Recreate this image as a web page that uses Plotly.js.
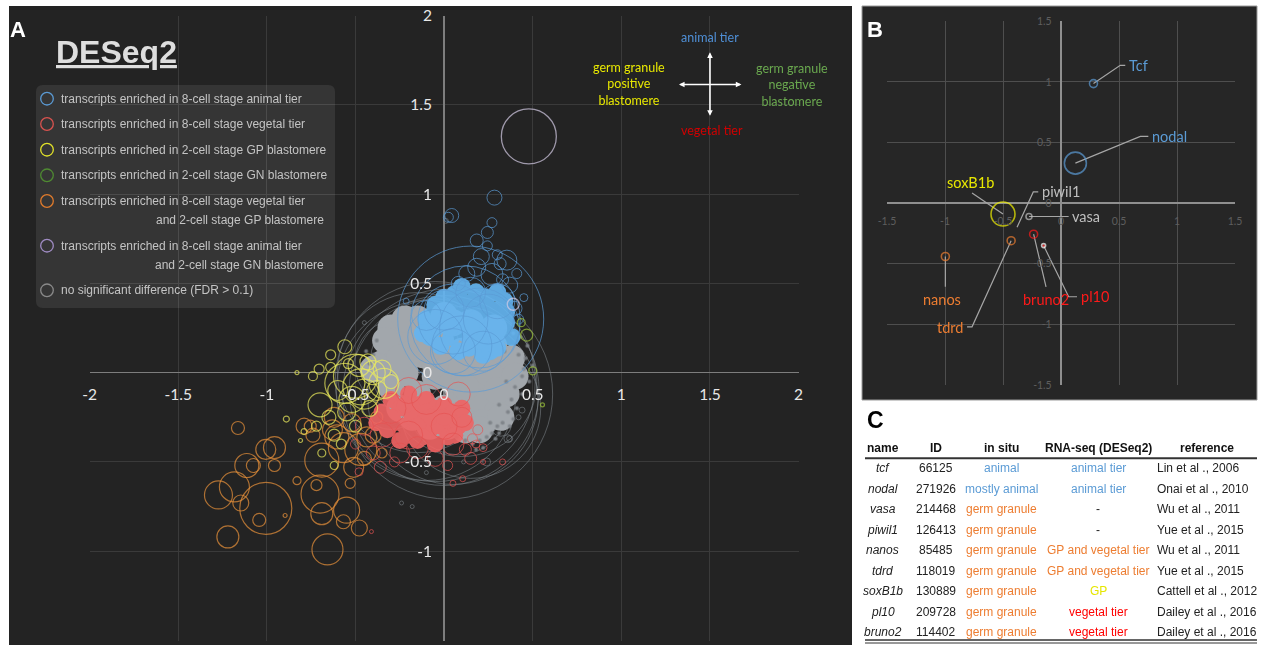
<!DOCTYPE html>
<html><head><meta charset="utf-8">
<script src="https://cdn.plot.ly/plotly-3.0.1.min.js"></script>
<style>html,body{margin:0;padding:0;background:#fff}#chart{width:1264px;height:645px}</style>
</head><body><div id="chart"></div>
<script>
// ---------- Panel A data (log2 fold changes; bubble diameter) ----------
const aTicks = [-2,-1.5,-1,-0.5,0,0.5,1,1.5,2];
const aTickText = ['-2','-1.5','-1','-0.5','0','0.5','1','1.5','2'];
const aYTicks = [-1.5,-1,-0.5,0,0.5,1,1.5,2];
const aYTickText = ['-1.5','-1','-0.5','0','0.5','1','1.5','2'];

// not significant: dense core
const greyCoreX = [-0.35,-0.30,-0.28,-0.22,-0.20,-0.15,-0.12,-0.10,-0.05,-0.02,0.00,0.03,0.05,0.08,0.10,0.12,0.15,0.18,0.20,0.22,0.25,0.28,0.30,0.33,0.35,0.38,-0.25,-0.18,-0.08,0.02,0.12,0.22,0.32,-0.30,-0.15,0.00,0.15,0.28,0.05,0.18,-0.05,0.25,0.40,0.10,-0.20,-0.40,-0.33,-0.25,-0.10,0.06,0.20,-0.08,0.12,0.30,-0.22];
const greyCoreY = [0.05,-0.08,0.15,0.00,0.20,-0.12,0.10,0.25,-0.02,0.18,-0.20,0.05,0.28,-0.10,0.12,-0.25,0.00,0.20,-0.15,0.08,-0.05,0.15,-0.22,0.02,-0.12,0.08,-0.20,-0.25,-0.30,-0.30,-0.32,-0.28,-0.25,0.25,0.30,0.32,0.28,0.25,-0.05,-0.02,0.05,0.00,-0.02,0.02,0.10,0.02,0.18,0.08,-0.20,-0.18,-0.32,0.14,-0.08,-0.10,0.30];
// not significant: speckled edge
const greyDotX = [0.42,0.45,0.40,0.38,0.44,0.36,0.33,0.30,0.27,0.24,0.20,0.16,0.47,0.43,0.39,0.35,0.31,0.48,0.41,0.37,0.29,0.22,-0.40,-0.42,-0.38,-0.44,0.46,0.34,0.26,0.12,0.07,0.44,0.50,0.39,0.31,0.18];
const greyDotY = [0.10,0.02,-0.08,-0.15,-0.12,-0.22,-0.28,-0.30,-0.34,-0.36,-0.38,-0.40,0.15,0.20,0.22,-0.05,-0.18,-0.05,-0.20,-0.30,-0.37,-0.42,0.10,0.05,0.18,0.12,0.08,0.12,-0.28,-0.38,-0.36,-0.02,0.04,-0.26,-0.34,-0.43];
// not significant: open circles
const greyX = [0.02,0.00,0.05,-0.05,0.10,-0.10,0.15,0.00,-0.15,0.08,-0.05,0.20,0.44,0.42,0.36,0.24,0.11,-0.10,-0.24,-0.18,-0.45,0.37,0.01,0.30,-0.30,0.25,0.15,-0.20,0.32,-0.25,-0.12];
const greyY = [-0.12,-0.10,-0.15,-0.05,-0.05,-0.10,-0.20,0.00,0.00,-0.18,0.05,-0.25,-0.21,-0.25,-0.37,-0.50,-0.50,-0.56,-0.73,-0.75,0.28,-0.37,0.85,-0.10,-0.15,0.05,0.12,0.18,-0.30,0.05,0.12];
const greyS = [210,190,170,200,150,180,140,120,160,100,130,40,6,5,8,8,4,4,4,4,4,6,5,30,60,50,45,35,20,90,75];

// animal tier
const blueCoreX = [-0.10,-0.05,0.00,0.05,0.10,0.15,0.20,0.25,0.30,0.35,-0.08,-0.02,0.04,0.08,0.12,0.18,0.22,0.28,0.32,0.00,0.06,0.12,0.18,0.24,0.30,0.10,0.16,0.22,-0.05,0.14,0.26,0.20,0.08,0.34,-0.12,0.38,0.02,0.07,0.13,0.18,0.24,0.28,0.20,0.15,0.35,0.03,-0.06,0.10,0.30];
const blueCoreY = [0.30,0.25,0.35,0.28,0.40,0.32,0.38,0.30,0.35,0.28,0.20,0.15,0.20,0.12,0.22,0.18,0.25,0.20,0.22,0.42,0.44,0.30,0.45,0.42,0.45,0.36,0.26,0.10,0.38,0.14,0.12,0.32,0.30,0.40,0.22,0.20,0.30,0.36,0.38,0.30,0.36,0.28,0.18,0.25,0.34,0.25,0.33,0.48,0.14];
const blueX = [0.15,0.12,0.20,0.05,0.10,0.25,-0.05,0.00,0.30,0.15,-0.10,0.22,0.05,0.284,0.043,0.024,0.27,0.244,0.184,0.244,0.21,0.354,0.30,0.184,0.128,0.316,0.41,0.37,-0.214,0.45,0.27,0.08,0.33,0.42,0.40];
const blueY = [0.30,0.29,0.25,0.30,0.15,0.30,0.20,0.35,0.40,0.45,0.32,0.12,0.12,0.98,0.88,0.87,0.84,0.785,0.74,0.71,0.65,0.63,0.66,0.59,0.555,0.61,0.555,0.49,0.40,0.42,0.55,0.50,0.52,0.30,0.36];
const blueS = [146,110,80,70,60,50,55,40,35,30,30,40,45,15,14,10,10,12,13,10,16,20,10,18,16,12,10,16,6,8,22,14,12,10,14];

// vegetal tier
const redCoreX = [-0.30,-0.25,-0.20,-0.15,-0.10,-0.05,0.00,0.05,0.10,-0.28,-0.22,-0.18,-0.12,-0.08,-0.02,0.04,0.08,-0.35,-0.15,-0.05,-0.25,0.02,-0.10,-0.20,-0.32,0.12,-0.30,-0.22,-0.08,0.00,0.06,-0.15,-0.38,-0.12];
const redCoreY = [-0.15,-0.20,-0.12,-0.18,-0.15,-0.20,-0.18,-0.22,-0.20,-0.28,-0.30,-0.25,-0.28,-0.32,-0.30,-0.28,-0.30,-0.22,-0.38,-0.40,-0.38,-0.36,-0.22,-0.35,-0.32,-0.28,-0.25,-0.18,-0.25,-0.25,-0.35,-0.30,-0.28,-0.36];
const redX = [-0.36,-0.48,0.05,0.105,0.33,0.19,0.16,0.12,-0.41,0.22,0.18,-0.30,-0.20,0.00,-0.10,0.05,-0.35,-0.25,-0.45,0.10,-0.15,-0.05,-0.40,0.15,-0.28,0.02,0.22,-0.50,0.08,-0.20];
const redY = [-0.53,-0.555,-0.62,-0.594,-0.50,-0.32,-0.37,-0.43,-0.89,-0.50,-0.40,-0.20,-0.35,-0.30,-0.15,-0.40,-0.35,-0.45,-0.30,-0.25,-0.42,-0.48,-0.45,-0.48,-0.50,-0.52,-0.42,-0.40,-0.12,-0.10];
const redS = [12,8,6,6,6,10,10,12,4,5,8,30,28,26,30,22,24,20,18,20,22,16,14,12,10,10,8,10,24,26];

// 2-cell GP blastomere
const yelX = [-0.56,-0.64,-0.705,-0.74,-0.64,-0.54,-0.43,-0.56,-0.47,-0.34,-0.70,-0.89,-0.79,-0.81,-0.62,-0.69,-0.83,-0.50,-0.45,-0.40,-0.52,-0.60,-0.38,-0.48,-0.55,-0.42,-0.65,-0.62,-0.72,-0.35,-0.30,-0.50,-0.58];
const yelY = [0.145,0.10,0.02,-0.02,0.03,0.05,0.06,-0.06,-0.08,-0.06,-0.18,-0.26,-0.33,-0.38,-0.52,-0.45,0.00,-0.02,-0.12,0.00,-0.15,-0.10,-0.10,0.04,-0.22,-0.20,-0.25,-0.35,-0.30,0.02,-0.05,-0.30,-0.40];
const yelS = [14,10,10,9,10,10,16,40,36,30,24,6,6,4,8,8,4,44,30,24,26,20,20,22,18,16,14,12,10,18,14,12,10];

// 2-cell GN blastomere
const grnX = [0.435,0.466,0.50,0.555];
const grnY = [0.28,0.21,0.01,-0.18];
const grnS = [8,12,8,4];

// 8-cell vegetal + 2-cell GP
const orgX = [-1.163,-1.006,-0.957,-0.957,-1.113,-1.076,-1.183,-1.273,-1.147,-1.006,-1.043,-0.897,-1.22,-0.83,-0.70,-0.72,-0.69,-0.55,-0.568,-0.478,-0.658,-0.53,-0.79,-0.69,-0.568,-0.605,-0.47,-0.51,-0.63,-0.74,-0.436,-0.62,-0.755,-0.40,-0.45,-0.38,-0.52,-0.35];
const orgY = [-0.31,-0.43,-0.42,-0.52,-0.52,-0.52,-0.64,-0.685,-0.73,-0.76,-0.825,-0.80,-0.92,-0.605,-0.68,-0.63,-0.79,-0.77,-0.835,-0.87,-0.99,-0.62,-0.30,-0.49,-0.42,-0.36,-0.43,-0.53,-0.32,-0.35,-0.36,-0.25,-0.30,-0.35,-0.48,-0.25,-0.28,-0.45];
const orgS = [13,20,22,12,24,14,30,28,16,52,13,4,22,8,38,11,22,26,14,16,31,10,16,34,30,24,32,20,20,14,20,20,12,16,14,12,18,10];

// 8-cell animal + 2-cell GN
const purX = [0.478,0.39];
const purY = [1.323,0.383];
const purS = [55,12];

// legend
const legendLines1 = ['transcripts enriched in 8-cell stage animal tier','transcripts enriched in 8-cell stage vegetal tier','transcripts enriched in 2-cell stage GP blastomere','transcripts enriched in 2-cell stage GN blastomere','transcripts enriched in 8-cell stage vegetal tier','transcripts enriched in 8-cell stage animal tier','no significant difference (FDR &gt; 0.1)'];
const legendLines2 = ['','','','','and 2-cell stage GP blastomere','and 2-cell stage GN blastomere',''];
const legendColors = ['#5b9bd5','#d9534f','#e3e32a','#4f8a32','#e07b2c','#a08cc4','#8a8a8a'];

// ---------- Panel B data ----------
const bTicks = [-1.5,-1,-0.5,0,0.5,1,1.5];
const bTickText = ['-1.5','-1','-0.5','0','0.5','1','1.5'];
const bGenes = ['Tcf','nodal','soxB1b','piwil1','vasa','nanos','tdrd','bruno2','pl10'];
const bX = [0.28,0.124,-0.50,-0.379,-0.276,-0.997,-0.43,-0.236,-0.15];
const bY = [0.986,0.33,-0.09,-0.198,-0.11,-0.44,-0.31,-0.256,-0.35];
const bSize = [8,22,24,0,6,8,8,8,4];
const bColor = ['#5b9bd5','#5b9bd5','#f2f200','#bfbfbf','#bfbfbf','#ed7d31','#ed7d31','#ff1a1a','#ff1a1a'];
// label leader geometry (label side)
const bElbowX = [0.511,0.684,-0.767,-0.239,0.066,-0.997,-0.767,-0.129,0.066];
const bElbowY = [1.137,0.55,0.083,0.093,-0.11,-0.69,-1.02,-0.69,-0.772];
const bEndX = [0.554,0.753,-0.767,-0.196,0.066,-0.997,-0.81,-0.129,0.138];
const bEndY = [1.137,0.55,0.083,0.093,-0.11,-0.69,-1.02,-0.69,-0.772];
const bLabX = [0.57,0.77,-0.782,-0.18,0.08,-1.026,-0.828,-0.129,0.155];
const bLabY = [1.137,0.55,0.17,0.093,-0.11,-0.793,-1.025,-0.793,-0.772];
const bLabAnchor = ['left','left','center','left','left','center','right','center','left'];

// ---------- Panel C data ----------
const tHead = ['name','ID','in situ','RNA-seq (DESeq2)','reference'];
const tName = ['tcf','nodal','vasa','piwil1','nanos','tdrd','soxB1b','pl10','bruno2'];
const tID = ['66125','271926','214468','126413','85485','118019','130889','209728','114402'];
const tInSitu = ['animal','mostly animal','germ granule','germ granule','germ granule','germ granule','germ granule','germ granule','germ granule'];
const tRNA = ['animal tier','animal tier','-','-','GP and vegetal tier','GP and vegetal tier','GP','vegetal tier','vegetal tier'];
const tRef = ['Lin et al ., 2006','Onai et al ., 2010','Wu et al ., 2011','Yue et al ., 2015','Wu et al ., 2011','Yue et al ., 2015','Cattell et al ., 2012','Dailey et al ., 2016','Dailey et al ., 2016'];

// ---------- helpers ----------
const W = 1264, H = 645;
const X = p => p / W, Y = p => 1 - p / H;
const catColor = {'animal':'#5b9bd5','mostly animal':'#5b9bd5','germ granule':'#ed7d31','animal tier':'#5b9bd5','-':'#222','GP and vegetal tier':'#ed7d31','GP':'#e6e600','vegetal tier':'#ff0000'};

function openTrace(x, y, s, color, w) {
  return {type:'scatter', mode:'markers', x:x, y:y, xaxis:'x', yaxis:'y', hoverinfo:'skip',
    marker:{symbol:'circle-open', size:s, color:color, line:{width:w||1}}};
}
function fillTrace(x, y, size, color, op) {
  return {type:'scatter', mode:'markers', x:x, y:y, xaxis:'x', yaxis:'y', hoverinfo:'skip', opacity:op,
    marker:{symbol:'circle', size:size, color:color, line:{width:0}}};
}

const traces = [
  openTrace(greyX, greyY, greyS, '#80868c', 0.8),
  fillTrace(greyCoreX, greyCoreY, 27, '#a2a7ac', 1),
  fillTrace(greyDotX, greyDotY, 4, '#7c8186', 0.9),
  openTrace(orgX, orgY, orgS, '#e8913a', 1.2),
  fillTrace(redCoreX, redCoreY, 17, '#ee6464', 0.92),
  openTrace(redX, redY, redS, '#e65252', 1),
  fillTrace(blueCoreX, blueCoreY, 18, '#64b5f0', 0.92),
  openTrace(blueX, blueY, blueS, '#5b9bd5', 1),
  openTrace(yelX, yelY, yelS, '#ebeb5c', 1.2),
  openTrace(grnX, grnY, grnS, '#9cc43c', 1.3),
  openTrace(purX, purY, purS, '#d4cce6', 1.3)
];

// panel B leader lines
const lx = [], ly = [];
for (let i = 0; i < bGenes.length; i++) {
  lx.push(bX[i], bElbowX[i], bEndX[i], null);
  ly.push(bY[i], bElbowY[i], bEndY[i], null);
}
traces.push({type:'scatter', mode:'lines', x:lx, y:ly, xaxis:'x2', yaxis:'y2', hoverinfo:'skip',
  line:{color:'#a6a6a6', width:1.2}});
traces.push({type:'scatter', mode:'markers', x:bX, y:bY, xaxis:'x2', yaxis:'y2', hoverinfo:'skip',
  marker:{symbol:bGenes.map(g => g === 'pl10' ? 'circle' : 'circle-open'), size:bSize, color:bColor, line:{width:1.6}}});

// ---------- annotations ----------
const ann = [];
function pAnn(px, py, text, font, xa) {
  return {xref:'paper', yref:'paper', x:X(px), y:Y(py), text:text, showarrow:false, xanchor:xa || 'center', yanchor:'middle', font:font};
}
// panel letters & title
ann.push(pAnn(18, 29, '<b>A</b>', {family:'Liberation Sans, Arial', size:22, color:'#ffffff'}));
ann.push(pAnn(875, 29, '<b>B</b>', {family:'Liberation Sans, Arial', size:22, color:'#ffffff'}));
ann.push(pAnn(875, 420, '<b>C</b>', {family:'Liberation Sans, Arial', size:23, color:'#000000'}));
ann.push(pAnn(117, 52, '<u><b>DESeq2</b></u>', {family:'Liberation Sans, Arial', size:32, color:'#dedede'}));
// legend text
const legRowY = [98.7,124,149.7,175.3,201,245.7,290.3];
const legFont = {family:'Liberation Sans, Arial', size:12, color:'#c4c4c4'};
for (let i = 0; i < legendLines1.length; i++) {
  ann.push(pAnn(59, legRowY[i], legendLines1[i], legFont, 'left'));
  if (legendLines2[i]) ann.push(pAnn(326, legRowY[i] + 19.3, legendLines2[i], legFont, 'right'));
}
// compass
const cf = (c) => ({family:'Lato, Open Sans', size:12.5, color:c});
ann.push({x:1.5, y:1.877, xref:'x', yref:'y', text:'animal tier', showarrow:false, font:cf('#4f8fd6')});
ann.push({x:1.51, y:1.357, xref:'x', yref:'y', text:'vegetal tier', showarrow:false, font:cf('#d00000')});
ann.push({x:1.043, y:1.614, xref:'x', yref:'y', text:'germ granule<br>positive<br>blastomere', showarrow:false, font:cf('#e8e800')});
ann.push({x:1.963, y:1.61, xref:'x', yref:'y', text:'germ granule<br>negative<br>blastomere', showarrow:false, font:cf('#6aa84f')});
ann.push({x:1.5, y:1.794, ax:1.5, ay:1.43, xref:'x', yref:'y', axref:'x', ayref:'y', text:'', showarrow:true, arrowhead:2, arrowside:'end+start', arrowsize:0.7, arrowwidth:1.6, arrowcolor:'#ffffff'});
ann.push({x:1.325, y:1.614, ax:1.686, ay:1.614, xref:'x', yref:'y', axref:'x', ayref:'y', text:'', showarrow:true, arrowhead:2, arrowside:'end+start', arrowsize:0.7, arrowwidth:1.6, arrowcolor:'#ffffff'});
// panel B labels
for (let i = 0; i < bGenes.length; i++) {
  ann.push({x:bLabX[i], y:bLabY[i], xref:'x2', yref:'y2', text:bGenes[i], xanchor:bLabAnchor[i], yanchor:'middle', showarrow:false,
    font:{family:'Lato, Open Sans', size:14.5, color:bColor[i] === '#f2f200' ? '#e8e800' : bColor[i]}});
}
// table
const colX = [883, 936, 1001, 1098, 1207];
const tf = (c) => ({family:'Liberation Sans, Arial', size:12, color:c});
for (let j = 0; j < tHead.length; j++) {
  ann.push(pAnn(colX[j], 448.3, '<b>' + tHead[j] + '</b>', tf('#111')));
}
for (let i = 0; i < tName.length; i++) {
  const yy = 468.3 + i * 20.5;
  ann.push(pAnn(colX[0], yy, '<i>' + tName[i] + '</i>', tf('#222')));
  ann.push(pAnn(colX[1], yy, tID[i], tf('#222')));
  ann.push(pAnn(colX[2], yy, tInSitu[i], tf(catColor[tInSitu[i]])));
  ann.push(pAnn(colX[3], yy, tRNA[i], tf(catColor[tRNA[i]])));
  ann.push(pAnn(1155, yy, tRef[i], tf('#222'), 'left'));
}

// ---------- shapes ----------
const shapes = [
  {type:'rect', xref:'paper', yref:'paper', x0:X(9), x1:X(852), y0:Y(645), y1:Y(6), fillcolor:'#232323', line:{width:0}, layer:'below'},
  {type:'rect', xref:'paper', yref:'paper', x0:X(862), x1:X(1257), y0:Y(400), y1:Y(6), fillcolor:'#262626', line:{width:1, color:'#9a9a9a'}, layer:'below'},
  {type:'path', xref:'paper', yref:'paper', layer:'above', fillcolor:'rgba(255,255,255,0.085)', line:{width:0},
   path: (() => { const x0=36,x1=335,y0=85,y1=308,r=7;
     const P=(a,b)=>X(a)+','+Y(b);
     return 'M'+P(x0+r,y0)+' L'+P(x1-r,y0)+' Q'+P(x1,y0)+' '+P(x1,y0+r)+' L'+P(x1,y1-r)+' Q'+P(x1,y1)+' '+P(x1-r,y1)+
       ' L'+P(x0+r,y1)+' Q'+P(x0,y1)+' '+P(x0,y1-r)+' L'+P(x0,y0+r)+' Q'+P(x0,y0)+' '+P(x0+r,y0)+' Z'; })()},
  {type:'line', xref:'paper', yref:'paper', x0:X(865), x1:X(1257), y0:Y(458.3), y1:Y(458.3), line:{color:'#333', width:2}},
  {type:'line', xref:'paper', yref:'paper', x0:X(865), x1:X(1257), y0:Y(640), y1:Y(640), line:{color:'#333', width:1.5}},
  {type:'line', xref:'paper', yref:'paper', x0:X(865), x1:X(1257), y0:Y(643), y1:Y(643), line:{color:'#333', width:1}}
];
for (let i = 0; i < legendColors.length; i++) {
  const cy = legRowY[i], cx = 47, r = 6.3;
  shapes.push({type:'circle', xref:'paper', yref:'paper', layer:'above', x0:X(cx - r), x1:X(cx + r), y0:Y(cy + r), y1:Y(cy - r),
    line:{color:legendColors[i], width:1.3}, fillcolor:'rgba(0,0,0,0)'});
}

// ---------- layout ----------
const layout = {
  width:W, height:H, margin:{l:0, r:0, t:0, b:0}, paper_bgcolor:'#ffffff', plot_bgcolor:'rgba(0,0,0,0)',
  showlegend:false, hovermode:false,
  xaxis:{domain:[X(89.6), X(798.6)], range:[-2, 2], anchor:'free', position:Y(372.5), tickvals:aTicks, ticktext:aTickText,
    showgrid:true, gridcolor:'#3a3a3a', gridwidth:1, zeroline:true, zerolinecolor:'#7d7d7d', zerolinewidth:1.6, showline:false, ticks:'',
    ticklabelstandoff:11, tickfont:{family:'Lato, Open Sans', size:15.5, color:'#e8e8e8'}, fixedrange:true},
  yaxis:{domain:[Y(640.5), Y(15.5)], range:[-1.5, 2], anchor:'free', position:X(444), tickvals:aYTicks, ticktext:aYTickText,
    showgrid:true, gridcolor:'#3a3a3a', gridwidth:1, zeroline:true, zerolinecolor:'#7d7d7d', zerolinewidth:1.6, showline:false, ticks:'',
    ticklabelstandoff:12, tickfont:{family:'Lato, Open Sans', size:15.5, color:'#e8e8e8'}, fixedrange:true},
  xaxis2:{domain:[X(887), X(1235)], range:[-1.5, 1.5], anchor:'free', position:Y(203.3), tickvals:bTicks, ticktext:bTickText,
    showgrid:true, gridcolor:'#4e4e4e', gridwidth:1, zeroline:true, zerolinecolor:'#8f8f8f', zerolinewidth:1.6, showline:false, ticks:'',
    ticklabelstandoff:10, tickfont:{family:'Lato, Open Sans', size:10.5, color:'#5e5e5e'}, fixedrange:true},
  yaxis2:{domain:[Y(385), Y(21.3)], range:[-1.5, 1.5], anchor:'free', position:X(1060.7), tickvals:bTicks, ticktext:bTickText,
    showgrid:true, gridcolor:'#4e4e4e', gridwidth:1, zeroline:true, zerolinecolor:'#8f8f8f', zerolinewidth:1.6, showline:false, ticks:'',
    ticklabelstandoff:9, tickfont:{family:'Lato, Open Sans', size:10.5, color:'#5e5e5e'}, fixedrange:true},
  annotations:ann, shapes:shapes
};

Plotly.newPlot('chart', traces, layout, {staticPlot:true, displayModeBar:false});
</script></body></html>
